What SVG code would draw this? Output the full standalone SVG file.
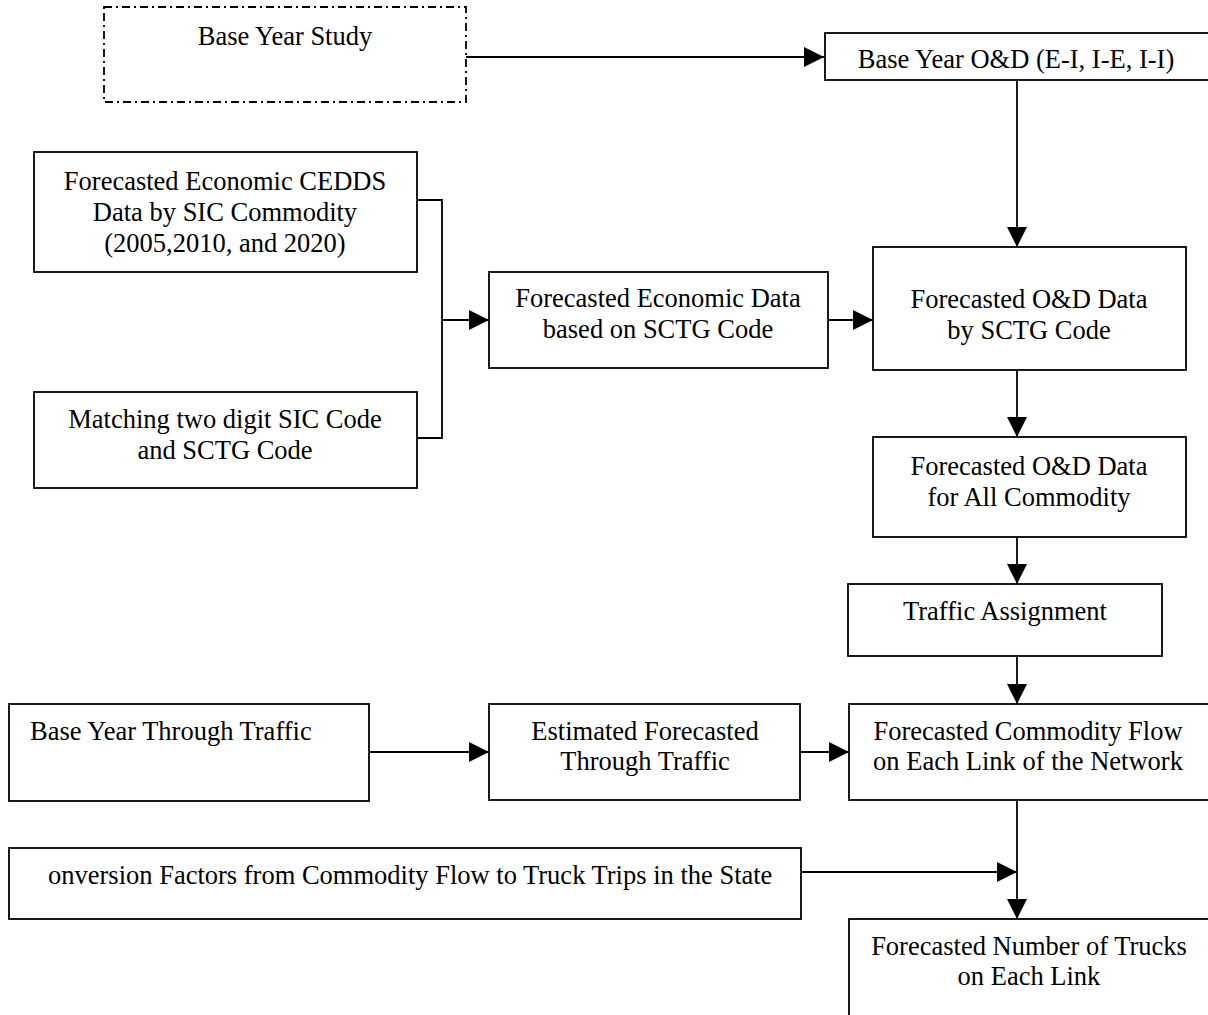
<svg xmlns="http://www.w3.org/2000/svg" width="1208" height="1015" viewBox="0 0 1208 1015">
  <style>
    .box { fill: #ffffff; stroke: #000000; stroke-width: 1.8; }
    .dash { fill: #ffffff; stroke: #000000; stroke-width: 1.8; stroke-dasharray: 8 4 2 4; }
    .lbl { font-family: "Liberation Serif", "Times New Roman", serif; font-size: 26.5px; fill: #000000; }
    .c { text-anchor: middle; }
    .wire { fill: none; stroke: #000000; stroke-width: 1.8; }
  </style>
  <defs>
    <marker id="arrow" markerUnits="userSpaceOnUse" markerWidth="20" markerHeight="20" refX="20" refY="10" orient="auto">
      <path d="M0,0 L20,10 L0,20 Z" fill="#000000"/>
    </marker>
  </defs>
  <rect width="1208" height="1015" fill="#ffffff"/>

  <!-- connectors -->
  <g id="connectors">
    <path class="wire" d="M466,57 H824" marker-end="url(#arrow)"/>
    <path class="wire" d="M1017,80 V247" marker-end="url(#arrow)"/>
    <path class="wire" d="M417,200 H442 V438 H417"/>
    <path class="wire" d="M442,320 H489" marker-end="url(#arrow)"/>
    <path class="wire" d="M828,320 H873" marker-end="url(#arrow)"/>
    <path class="wire" d="M1017,370 V437" marker-end="url(#arrow)"/>
    <path class="wire" d="M1017,537 V584" marker-end="url(#arrow)"/>
    <path class="wire" d="M1017,656 V704" marker-end="url(#arrow)"/>
    <path class="wire" d="M369,752 H489" marker-end="url(#arrow)"/>
    <path class="wire" d="M800,752 H849" marker-end="url(#arrow)"/>
    <path class="wire" d="M1017,800 V919" marker-end="url(#arrow)"/>
    <path class="wire" d="M801,872 H1017" marker-end="url(#arrow)"/>
  </g>

  <g id="base-year-study">
    <rect class="dash" x="104" y="7" width="362" height="95"/>
    <text class="lbl c" x="285" y="45">Base Year Study</text>
  </g>

  <g id="base-year-od">
    <rect class="box" x="825" y="33" width="390" height="47"/>
    <text class="lbl c" x="1016" y="68">Base Year O&amp;D (E-I, I-E, I-I)</text>
  </g>

  <g id="cedds-forecast">
    <rect class="box" x="34" y="152" width="383" height="120"/>
    <text class="lbl c" x="225" y="190">Forecasted Economic CEDDS</text>
    <text class="lbl c" x="225" y="221">Data by SIC Commodity</text>
    <text class="lbl c" x="225" y="252">(2005,2010, and 2020)</text>
  </g>

  <g id="sic-sctg-match">
    <rect class="box" x="34" y="392" width="383" height="96"/>
    <text class="lbl c" x="225" y="428">Matching two digit SIC Code</text>
    <text class="lbl c" x="225" y="459">and SCTG Code</text>
  </g>

  <g id="econ-sctg">
    <rect class="box" x="489" y="272" width="339" height="96"/>
    <text class="lbl c" x="658" y="307">Forecasted Economic Data</text>
    <text class="lbl c" x="658" y="338">based on SCTG Code</text>
  </g>

  <g id="od-sctg">
    <rect class="box" x="873" y="247" width="313" height="123"/>
    <text class="lbl c" x="1029" y="308">Forecasted O&amp;D Data</text>
    <text class="lbl c" x="1029" y="339">by SCTG Code</text>
  </g>

  <g id="od-all">
    <rect class="box" x="873" y="437" width="313" height="100"/>
    <text class="lbl c" x="1029" y="475">Forecasted O&amp;D Data</text>
    <text class="lbl c" x="1029" y="506">for All Commodity</text>
  </g>

  <g id="traffic-assignment">
    <rect class="box" x="848" y="584" width="314" height="72"/>
    <text class="lbl c" x="1005" y="620">Traffic Assignment</text>
  </g>

  <g id="commodity-flow">
    <rect class="box" x="849" y="704" width="370" height="96"/>
    <text class="lbl c" x="1028" y="740">Forecasted Commodity Flow</text>
    <text class="lbl c" x="1028" y="770">on Each Link of the Network</text>
  </g>

  <g id="base-through">
    <rect class="box" x="9" y="704" width="360" height="97"/>
    <text class="lbl" x="30" y="740">Base Year Through Traffic</text>
  </g>

  <g id="est-through">
    <rect class="box" x="489" y="704" width="311" height="96"/>
    <text class="lbl c" x="645" y="740">Estimated Forecasted</text>
    <text class="lbl c" x="645" y="770">Through Traffic</text>
  </g>

  <g id="conversion">
    <rect class="box" x="9" y="848" width="792" height="71"/>
    <text class="lbl" x="48" y="884">onversion Factors from Commodity Flow to Truck Trips in the State</text>
  </g>

  <g id="trucks">
    <rect class="box" x="849" y="919" width="370" height="110"/>
    <text class="lbl c" x="1029" y="955">Forecasted Number of Trucks</text>
    <text class="lbl c" x="1029" y="985">on Each Link</text>
  </g>
</svg>
